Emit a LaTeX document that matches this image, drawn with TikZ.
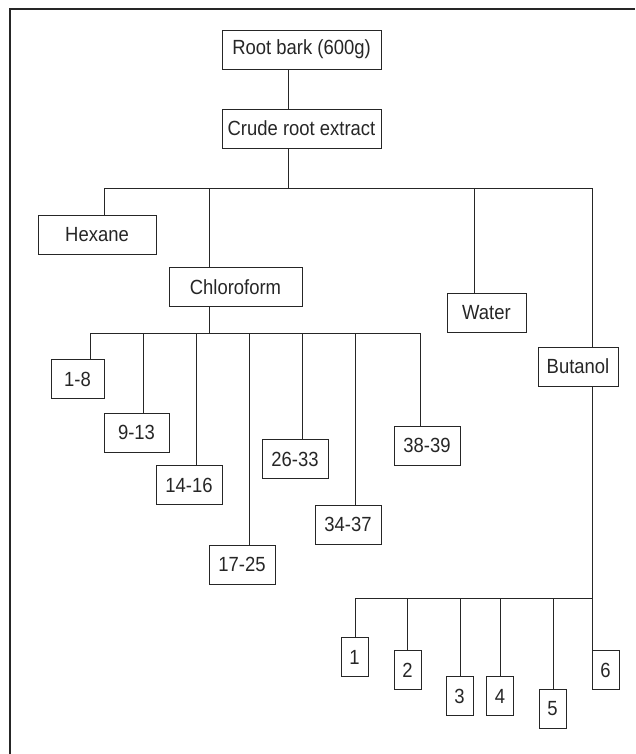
\documentclass[tikz,border=0pt]{standalone}
\usepackage{fontspec}
\setmainfont{Liberation Sans}[FakeStretch=0.9]
\usetikzlibrary{calc}

\begin{document}
\begin{tikzpicture}
	[x=1pt,y=-1pt,-,line width=0.9pt,color=black!85,
	every node/.style={shape=rectangle,draw,line width=0.9pt,minimum height=39pt,inner sep=1pt,font=\fontsize{20.5}{24}\selectfont}]
	\useasboundingbox (0,0) rectangle (635,754);
	\draw[line width=1.3pt] (10,754) -- (10,9) -- (635,9);

	\node[minimum width=159pt] (root) at (301.5,49.5) {Root bark (600g)};
	\node[minimum width=159pt] (crude) at (301.5,128.5) {Crude root extract};
	\node[minimum width=118pt] (hex) at (97,235) {Hexane};
	\node[minimum width=133pt] (chl) at (235.5,287) {Chloroform};
	\node[minimum width=79pt] (wat) at (486.5,313) {Water};
	\node[minimum width=80pt] (but) at (578,366.5) {Butanol};

	% chloroform fractions
	\node[minimum width=53pt] (c1) at (77.5,379) {1-8};
	\node[minimum width=65pt] (c2) at (136.5,432.5) {9-13};
	\node[minimum width=66pt] (c3) at (189,485) {14-16};
	\node[minimum width=66pt] (c4) at (242,564.5) {17-25};
	\node[minimum width=66pt] (c5) at (295,459) {26-33};
	\node[minimum width=66pt] (c6) at (348,524.5) {34-37};
	\node[minimum width=66pt] (c7) at (427,445.5) {38-39};

	% butanol fractions
	\node[minimum width=27pt] (b1) at (354.5,657) {1};
	\node[minimum width=27pt] (b2) at (407.5,670) {2};
	\node[minimum width=27pt] (b3) at (459.5,696) {3};
	\node[minimum width=27pt] (b4) at (500,696) {4};
	\node[minimum width=27pt] (b5) at (552.5,709) {5};
	\node[minimum width=27pt] (b6) at (605.5,670) {6};

	\coordinate (m) at (288,188);
	\coordinate (k) at (209,333);
	\coordinate (q) at (592,598);
	\draw (root.south -| m) -- (crude.north -| m);
	\draw (crude.south -| m) -- (m);
	\draw (104,188) -- (592,188);
	\foreach \x/\n in {104/hex,209/chl,474/wat,592/but}
	{
		\coordinate (t\n) at (\x,188);
		\draw (t\n) -- (t\n |- \n.north);
	}

	\draw (chl.south -| k) -- (k);
	\draw (90,333) -- (420,333);
	\foreach \x/\n in {90/c1,143/c2,196/c3,249/c4,302/c5,355/c6,420/c7}
	{
		\coordinate (t\n) at (\x,333);
		\draw (t\n) -- (t\n |- \n.north);
	}

	\draw (but.south -| q) -- (q);
	\draw (355,598) -- (q);
	\foreach \x/\n in {355/b1,407/b2,460/b3,500/b4,553/b5,592/b6}
	{
		\coordinate (t\n) at (\x,598);
		\draw (t\n) -- (t\n |- \n.north);
	}
\end{tikzpicture}
\end{document}
